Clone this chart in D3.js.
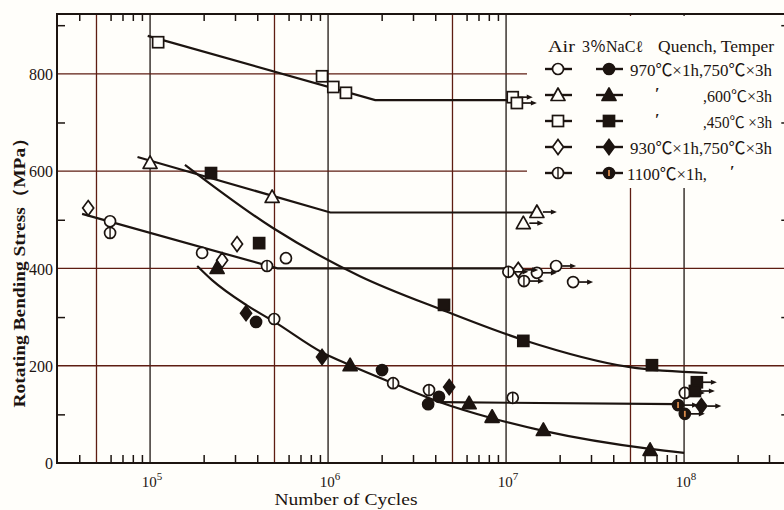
<!DOCTYPE html>
<html><head><meta charset="utf-8">
<script src="https://cdn.jsdelivr.net/npm/d3@7"></script>
<style>html,body{margin:0;padding:0;background:#fffefa;}svg{display:block}</style>
</head><body>
<svg id="c" width="784" height="510"></svg>
<script>
// ---------------- data (N cycles, stress MPa, runout flag) ----------------
const airCircle   = [[5.96e4,497,0],[1.96e5,432,0],[5.8e5,421,0],[1.49e7,391,1],[1.91e7,405,1],[2.38e7,372,1]];
const airTriangle = [[1.0e5,617,0],[4.85e5,547,0],[1.49e7,516,1],[1.25e7,493,1]];
const airSquare   = [[1.11e5,865,0],[9.25e5,795,0],[1.07e6,773,0],[1.26e6,761,0],[1.09e7,752,1],[1.15e7,740,1]];
const airDiamond  = [[4.49e4,524,0],[3.08e5,450,0],[2.54e5,417,0],[1.17e7,397,1]];
const airPhi      = [[5.96e4,473,0],[4.54e5,405,0],[1.03e7,393,1],[1.26e7,374,1],[4.98e5,296,0],[2.32e6,164,0],[3.69e6,150,0],[1.09e7,134,0],[1.01e8,144,1]];
const naclCircle  = [[3.94e5,290,0],[2.01e6,191,0],[3.65e6,121,0],[4.2e6,136,0]];
const naclTriangle= [[2.38e5,401,0],[1.33e6,201,0],[6.2e6,123,0],[8.35e6,95,0],[1.62e7,68,0],[6.44e7,27,0]];
const naclSquare  = [[2.2e5,596,0],[4.1e5,452,0],[4.48e6,325,0],[1.25e7,251,0],[6.6e7,201,0],[1.18e8,166,1],[1.15e8,148,1]];
const naclDiamond = [[3.46e5,308,0],[9.25e5,218,0],[4.79e6,156,0],[1.25e8,117,1]];
const naclPhi     = [[9.25e7,119,1],[1.01e8,101,1]];

// fitted curves
const fitAirSquare   = [[9.7e4,878],[1.84e6,746],[1.1e7,746]];
const fitAirTriangle = [[8.5e4,629],[1.03e6,515],[1.49e7,515]];
const fitAirCircle   = [[4.15e4,512],[5.2e5,400],[1.03e7,400]];
const fitNaclSquare  = [[1.57e5,613],[4.9e5,483],[1.51e6,384],[4.43e6,314],[1.25e7,253],[4.97e7,197],[1.35e8,185]];
const fitNaclLower   = [[1.84e5,405],[2.23e5,376],[3.5e5,324],[5.0e5,290],[9.4e5,226],[1.33e6,201],[2.32e6,164],[4.26e6,125],[8.35e6,92],[1.62e7,66],[6.44e7,29],[1.0e8,21]];
const fitNacl1100    = [[4.26e6,125],[9.2e7,121]];

// ticks
const xGridTicks  = [5e4,1e5,5e5,1e6,5e6,1e7,5e7,1e8];
const xLabelTicks = [1e5,1e6,1e7,1e8];
const xLabelExp   = ["5","6","7","8"];
const xMinorTicks = [4e4,6e4,7e4,8e4,9e4,2e5,3e5,4e5,6e5,7e5,8e5,9e5,2e6,3e6,4e6,6e6,7e6,8e6,9e6,2e7,3e7,4e7,6e7,7e7,8e7,9e7,2e8,3e8];
const yMajor = [0,200,400,600,800];
const yMinor = [100,300,500,700,900];

// legend
const legendShapes = ["circle","triangle","square","diamond","phi"];
const legendLeft   = ["970℃×1h,750℃×3h","","","930℃×1h,750℃×3h","1100℃×1h,"];
const legendRight  = ["",",600℃×3h",",450℃ ×3h","",""];
const legendHeader = ["Air","3％NaCℓ","Quench, Temper"];

// ---------------- drawing ----------------
const bg="#fffefa", ink="#1c1410", gridCol="#5e1d12";
const svg=d3.select("#c");
svg.append("rect").attr("width",784).attr("height",510).attr("fill",bg);

const decadePx=178;
const x=d3.scaleLog().domain([3e4,3.9e8]).range([57,57+Math.log10(3.9e8/3e4)*decadePx]);
const y=d3.scaleLinear().domain([0,923]).range([463,14]);
const X0=x.range()[0], X1=x.range()[1], Y0=y.range()[0], Y1=y.range()[1];

// grid
svg.append("g").selectAll("line").data(xGridTicks).join("line")
  .attr("x1",d=>x(d)).attr("x2",d=>x(d)).attr("y1",Y1).attr("y2",Y0)
  .attr("stroke",(d,i)=>i%2?ink:gridCol).attr("stroke-width",1.3);
svg.append("g").selectAll("line").data(yMajor.filter(d=>d>0)).join("line")
  .attr("x1",X0).attr("x2",X1).attr("y1",d=>y(d)).attr("y2",d=>y(d))
  .attr("stroke",gridCol).attr("stroke-width",1.4);

// legend background
svg.append("rect").attr("x",527).attr("y",Y1+2).attr("width",784-527).attr("height",172).attr("fill",bg);

// axes ticks
function strip(g){g.select(".domain").remove();g.selectAll("line").attr("stroke",ink).attr("stroke-width",1.5);}
svg.append("g").attr("transform",`translate(0,${Y0})`).call(d3.axisBottom(x).tickValues(xMinorTicks).tickSize(-8).tickFormat("")).call(strip);
svg.append("g").attr("transform",`translate(0,${Y1})`).call(d3.axisTop(x).tickValues(xMinorTicks.filter(d=>x(d)<525)).tickSize(-7).tickFormat("")).call(strip);
svg.append("g").attr("transform",`translate(${X0},0)`).call(d3.axisLeft(y).tickValues(yMinor).tickSize(-8).tickFormat("")).call(strip);
svg.append("g").attr("transform",`translate(${X1},0)`).call(d3.axisRight(y).tickValues(yMinor).tickSize(-8).tickFormat("")).call(strip);

// y labels
const yl=svg.append("g").attr("transform",`translate(${X0},0)`).call(d3.axisLeft(y).tickValues(yMajor).tickSize(0).tickPadding(4));
yl.select(".domain").remove();
yl.selectAll("text").attr("font-family","Liberation Serif, serif").attr("font-size",16).attr("fill",ink).attr("dy","0.35em");

// x labels
const xl=svg.append("g");
xLabelTicks.forEach((d,i)=>{
  const t=xl.append("text").attr("x",x(d)+2).attr("y",487).attr("text-anchor","middle")
    .attr("font-family","Liberation Serif, serif").attr("font-size",15).attr("fill",ink);
  t.append("tspan").text("10");
  t.append("tspan").attr("dy",-7).attr("font-size",11).text(xLabelExp[i]);
});

// axis titles
svg.append("text").attr("x",346).attr("y",505).attr("text-anchor","middle")
  .attr("font-family","Liberation Serif, serif").attr("font-size",17).attr("fill",ink)
  .attr("textLength",143).attr("lengthAdjust","spacingAndGlyphs").text("Number of Cycles");
svg.append("text").attr("transform","translate(25,268) rotate(-90)").attr("text-anchor","middle")
  .attr("font-family","Liberation Serif, serif").attr("font-size",17).attr("font-weight","bold").attr("fill",ink)
  .attr("textLength",279).attr("lengthAdjust","spacingAndGlyphs").text("Rotating Bending Stress（MPa）");

// frame
svg.append("rect").attr("x",X0).attr("y",Y1).attr("width",X1-X0).attr("height",Y0-Y1)
  .attr("fill","none").attr("stroke",ink).attr("stroke-width",2);

// fitted curves
const lineLin=d3.line().x(d=>x(d[0])).y(d=>y(d[1]));
const lineCur=d3.line().x(d=>x(d[0])).y(d=>y(d[1])).curve(d3.curveMonotoneX);
const curves=svg.append("g").attr("fill","none").attr("stroke",ink).attr("stroke-width",2.2);
[fitAirSquare,fitAirTriangle,fitAirCircle,fitNacl1100].forEach(c=>curves.append("path").attr("d",lineLin(c)));
[fitNaclSquare,fitNaclLower].forEach(c=>curves.append("path").attr("d",lineCur(c)));

// markers
function marker(g,shape,filled,cx,cy){
  const f=filled?ink:bg, sw=1.7;
  if(shape==="circle"){g.append("circle").attr("cx",cx).attr("cy",cy).attr("r",5.5).attr("fill",f).attr("stroke",ink).attr("stroke-width",sw);}
  else if(shape==="triangle"){g.append("path").attr("d",`M${cx},${cy-7}L${cx+7},${cy+5.5}L${cx-7},${cy+5.5}Z`).attr("fill",f).attr("stroke",ink).attr("stroke-width",sw).attr("stroke-linejoin","round");}
  else if(shape==="square"){g.append("rect").attr("x",cx-5.5).attr("y",cy-5.5).attr("width",11).attr("height",11).attr("fill",f).attr("stroke",ink).attr("stroke-width",sw);}
  else if(shape==="diamond"){g.append("path").attr("d",`M${cx},${cy-7.5}L${cx+5.5},${cy}L${cx},${cy+7.5}L${cx-5.5},${cy}Z`).attr("fill",f).attr("stroke",ink).attr("stroke-width",sw);}
  else if(shape==="phi"){
    g.append("circle").attr("cx",cx).attr("cy",cy).attr("r",5.5).attr("fill",f).attr("stroke",ink).attr("stroke-width",sw);
    g.append("line").attr("x1",cx).attr("x2",cx).attr("y1",cy-(filled?3:5.5)).attr("y2",cy+(filled?3:5.5))
      .attr("stroke",filled?"#d8894a":ink).attr("stroke-width",filled?1.8:1.4);
  }
}
function arrow(g,cx,cy){
  g.append("line").attr("x1",cx+6).attr("x2",cx+16).attr("y1",cy).attr("y2",cy).attr("stroke",ink).attr("stroke-width",1.7);
  g.append("path").attr("d",`M${cx+20},${cy}L${cx+14},${cy-2.6}L${cx+14},${cy+2.6}Z`).attr("fill",ink);
}
const mk=svg.append("g");
const series=[
  [airCircle,"circle",false],[airTriangle,"triangle",false],[airSquare,"square",false],[airDiamond,"diamond",false],[airPhi,"phi",false],
  [naclCircle,"circle",true],[naclTriangle,"triangle",true],[naclSquare,"square",true],[naclDiamond,"diamond",true],[naclPhi,"phi",true]
];
series.forEach(([data,shape,filled])=>{
  data.forEach(d=>{ if(d[2]) arrow(mk,x(d[0]),y(d[1])); });
  data.forEach(d=>marker(mk,shape,filled,x(d[0]),y(d[1])));
});

// legend
const lg=svg.append("g");
const font="Liberation Serif, 'Noto Sans CJK JP', serif";
const hdr=[[548,27,17],[582,61,16],[658,116,16]];
legendHeader.forEach((t,i)=>lg.append("text").attr("x",hdr[i][0]).attr("y",52).attr("font-family",font).attr("font-size",hdr[i][2]).attr("fill",ink)
  .attr("textLength",hdr[i][1]).attr("lengthAdjust","spacingAndGlyphs").text(t));
legendShapes.forEach((s,i)=>{
  const ry=69+i*26;
  [[558,false],[609,true]].forEach(([cx,filled])=>{
    lg.append("line").attr("x1",cx-13).attr("x2",cx+14).attr("y1",ry).attr("y2",ry).attr("stroke",ink).attr("stroke-width",2.4);
    marker(lg,s,filled,cx,ry);
  });
  if(legendLeft[i]){
    const w=i===4?80:142;
    lg.append("text").attr("x",i===4?627:630).attr("y",ry+7).attr("font-family",font).attr("font-size",17).attr("fill",ink)
      .attr("textLength",w).attr("lengthAdjust","spacingAndGlyphs").text(legendLeft[i]);
  }
  if(legendRight[i]){
    lg.append("text").attr("x",703).attr("y",ry+7).attr("font-family",font).attr("font-size",16).attr("fill",ink)
      .attr("textLength",69).attr("lengthAdjust","spacingAndGlyphs").text(legendRight[i]);
  }
  if(i===1||i===2||i===4){
    lg.append("text").attr("x",i===4?730:655).attr("y",ry+4).attr("font-family",font).attr("font-size",16).attr("font-weight","bold").attr("fill",ink).text("′");
  }
});
</script>
</body></html>
